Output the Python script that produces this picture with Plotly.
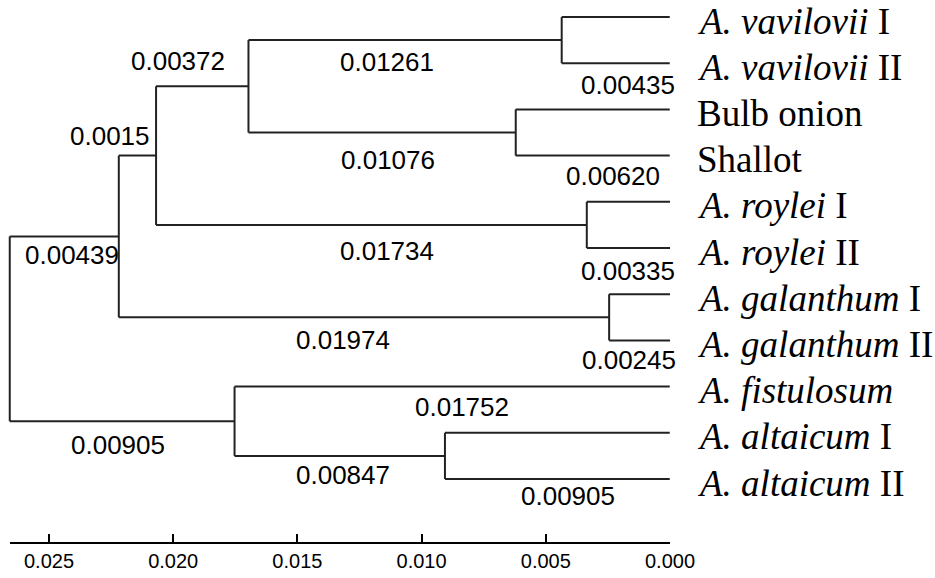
import plotly.graph_objects as go

# ---------------- data ----------------
leaf_ids = ["L0", "L1", "L2", "L3", "L4", "L5", "L6", "L7", "L8", "L9", "L10"]
leaf_labels = [
    "<i>A. vavilovii</i> I",
    "<i>A. vavilovii</i> II",
    "Bulb onion",
    "Shallot",
    "<i>A. roylei</i> I",
    "<i>A. roylei</i> II",
    "<i>A. galanthum</i> I",
    "<i>A. galanthum</i> II",
    "<i>A. fistulosum</i>",
    "<i>A. altaicum</i> I",
    "<i>A. altaicum</i> II",
]

edge_parent = ["root", "root", "A", "A", "B", "B", "C", "C", "vav", "vav",
               "oni", "oni", "roy", "roy", "gal", "gal", "D", "D", "alt", "alt"]
edge_child = ["A", "D", "B", "gal", "C", "roy", "vav", "oni", "L0", "L1",
              "L2", "L3", "L4", "L5", "L6", "L7", "L8", "alt", "L9", "L10"]
edge_length = [0.00439, 0.00905, 0.0015, 0.01974, 0.00372, 0.01734, 0.01261, 0.01076,
               0.00435, 0.00435, 0.00620, 0.00620, 0.00335, 0.00335, 0.00245, 0.00245,
               0.01752, 0.00847, 0.00905, 0.00905]
edge_text = ["0.00439", "0.00905", "0.0015", "0.01974", "0.00372", "0.01734", "0.01261", "0.01076",
             "", "0.00435", "", "0.00620", "", "0.00335", "", "0.00245",
             "0.01752", "0.00847", "", "0.00905"]

scale_ticks = [0.025, 0.020, 0.015, 0.010, 0.005, 0.000]

# ---------------- label placement (pixels: right / down from branch midpoint) ----------------
label_dx = [8, -4, -27, -21, -24, 16, -18, 6, 0, 12, 0, 20, 0, 0, 0, -11, 10, 3, 0, 11]
label_dy = [19, 24, -20, 23, -25, 26, 22, 27, 0, 22, 0, 20, 0, 23, 0, 20, 20, 19, 0, 17]

# ---------------- layout geometry ----------------
W, H = 935, 578
PX_PER_UNIT = 24840.0
TIP_PX = 670.0
LEAF_TOP_PX, LEAF_STEP_PX = 17.0, 46.2
AXIS_PX = 543.0

# ---------------- compute tree geometry ----------------
children = {}
length_of = {}
for p, c, l in zip(edge_parent, edge_child, edge_length):
    children.setdefault(p, []).append(c)
    length_of[c] = l

depth = {"root": 0.0}
order = ["root"]
i = 0
while i < len(order):
    n = order[i]
    for c in children.get(n, []):
        depth[c] = depth[n] + length_of[c]
        order.append(c)
    i += 1
root_height = max(depth[l] for l in leaf_ids)
height = {n: root_height - d for n, d in depth.items()}

ypos = {l: k for k, l in enumerate(leaf_ids)}


def node_y(n):
    if n in ypos:
        return ypos[n]
    ys = [node_y(c) for c in children[n]]
    ypos[n] = sum(ys) / len(ys)
    return ypos[n]


node_y("root")

xs, ys = [], []
for n, ch in children.items():
    # vertical connector
    xs += [height[n], height[n], None]
    ys += [ypos[ch[0]], ypos[ch[-1]], None]
    for c in ch:
        xs += [height[n], height[c], None]
        ys += [ypos[c], ypos[c], None]

fig = go.Figure()
# invisible trace to host the scale axis (drawn first, underneath)
fig.add_trace(go.Scatter(x=[0], y=[0], xaxis="x2", yaxis="y", mode="markers",
                         marker=dict(opacity=0), hoverinfo="skip", showlegend=False))
fig.add_trace(go.Scatter(x=xs, y=ys, mode="lines",
                         line=dict(color="#222222", width=2),
                         hoverinfo="skip", showlegend=False))

annotations = []
for l, txt in zip(leaf_ids, leaf_labels):
    annotations.append(dict(x=height[l], y=ypos[l], xref="x", yref="y", text=txt,
                            showarrow=False, xanchor="left", yanchor="middle",
                            xshift=25, yshift=-4,
                            font=dict(family="Liberation Serif, Times New Roman, serif",
                                      size=37, color="black")))
for p, c, t, dx, dy in zip(edge_parent, edge_child, edge_text, label_dx, label_dy):
    if not t:
        continue
    annotations.append(dict(x=(height[p] + height[c]) / 2, y=ypos[c], xref="x", yref="y",
                            text=t, showarrow=False, xanchor="center", yanchor="middle",
                            xshift=dx, yshift=-dy,
                            font=dict(family="Liberation Sans, Arial, sans-serif",
                                      size=26, color="black")))

x_left = TIP_PX / PX_PER_UNIT
x_right = (TIP_PX - W) / PX_PER_UNIT
y_top = -LEAF_TOP_PX / LEAF_STEP_PX
y_bot = (H - LEAF_TOP_PX) / LEAF_STEP_PX

fig.update_layout(
    width=W, height=H,
    margin=dict(l=0, r=0, t=0, b=0, autoexpand=False),
    paper_bgcolor="white", plot_bgcolor="rgba(0,0,0,0)",
    showlegend=False,
    annotations=annotations,
    xaxis=dict(range=[x_left, x_right], visible=False, domain=[0, 1], automargin=False),
    yaxis=dict(range=[y_bot, y_top], visible=False, domain=[0, 1], automargin=False),
    xaxis2=dict(
        domain=[(TIP_PX - root_height * PX_PER_UNIT) / W, TIP_PX / W],
        range=[root_height, 0],
        anchor="free", position=1 - AXIS_PX / H, automargin=False,
        showline=True, linecolor="black", linewidth=2,
        ticks="inside", ticklen=8, tickwidth=2, tickcolor="black",
        tickvals=scale_ticks, tickformat=".3f",
        tickfont=dict(family="Liberation Sans, Arial, sans-serif", size=20, color="black"),
        showgrid=False, zeroline=False,
    ),
)

fig.write_html("out.html",
               config={"displayModeBar": False, "staticPlot": True},
               post_script="document.body.style.margin='0';document.body.style.overflow='hidden';")
